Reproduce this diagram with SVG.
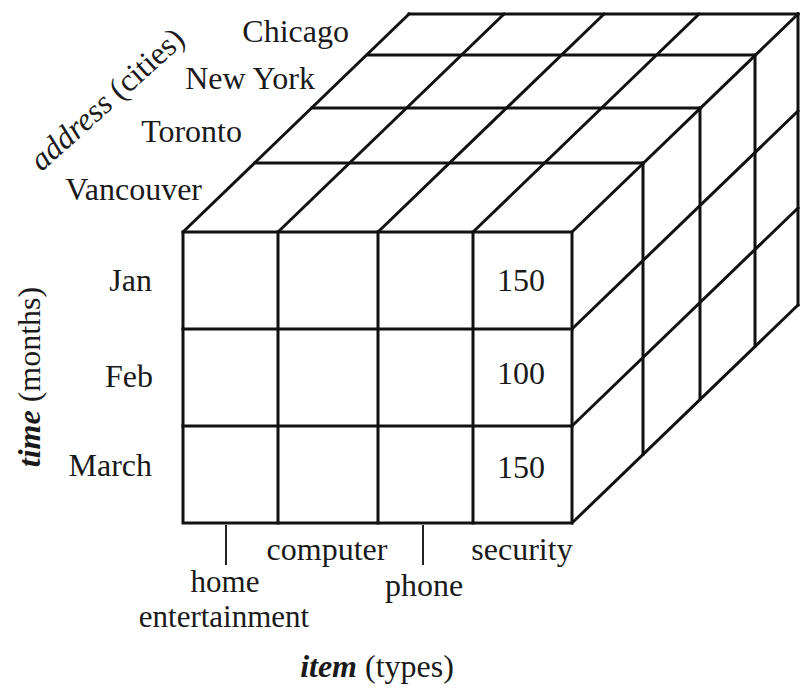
<svg xmlns="http://www.w3.org/2000/svg" width="801" height="688" viewBox="0 0 801 688">
  <style>
    .edge { fill: none; stroke: #111; stroke-width: 3; stroke-linejoin: miter; stroke-linecap: square; }
    .tick { fill: none; stroke: #222; stroke-width: 2; }
    .lbl { font-family: "Liberation Serif", "DejaVu Serif", serif; font-size: 32px; fill: #1a1a1a; }
    .end { text-anchor: end; }
    .mid { text-anchor: middle; }
    .dim { font-weight: bold; font-style: italic; }
    .ital { font-style: italic; }
    .tight { font-size: 31px; }
  </style>
  <rect width="801" height="688" fill="#ffffff"/>

  <!-- cube wireframe: front face 4 x 3, top face 4 x 4, right face 4 x 3 -->
  <g id="connectors">
    <!-- front face -->
    <g id="front-face">
      <rect class="edge" x="183" y="232" width="389" height="291"/>
      <line class="edge" x1="278" y1="232" x2="278" y2="523"/>
      <line class="edge" x1="378" y1="232" x2="378" y2="523"/>
      <line class="edge" x1="473" y1="232" x2="473" y2="523"/>
      <line class="edge" x1="183" y1="329" x2="572" y2="329"/>
      <line class="edge" x1="183" y1="426" x2="572" y2="426"/>
    </g>
    <!-- top face: depth lines and city layers -->
    <g id="top-face">
      <line class="edge" x1="183" y1="232" x2="409" y2="14"/>
      <line class="edge" x1="278" y1="232" x2="504" y2="14"/>
      <line class="edge" x1="378" y1="232" x2="604" y2="14"/>
      <line class="edge" x1="473" y1="232" x2="699" y2="14"/>
      <line class="edge" x1="572" y1="232" x2="798" y2="14"/>
      <line class="edge" x1="255" y1="163" x2="643" y2="163"/>
      <line class="edge" x1="312" y1="108" x2="700" y2="108"/>
      <line class="edge" x1="367" y1="55" x2="755" y2="55"/>
      <line class="edge" x1="409" y1="14" x2="798" y2="14"/>
    </g>
    <!-- right face -->
    <g id="right-face">
      <line class="edge" x1="643" y1="163" x2="643" y2="454"/>
      <line class="edge" x1="700" y1="108" x2="700" y2="399"/>
      <line class="edge" x1="755" y1="55" x2="755" y2="346"/>
      <line class="edge" x1="798" y1="14" x2="798" y2="305"/>
      <line class="edge" x1="572" y1="329" x2="798" y2="111"/>
      <line class="edge" x1="572" y1="426" x2="798" y2="208"/>
      <line class="edge" x1="572" y1="523" x2="798" y2="305"/>
    </g>
    <!-- item ticks -->
    <line class="tick" x1="226" y1="525" x2="226" y2="565"/>
    <line class="tick" x1="423" y1="525" x2="423" y2="565"/>
  </g>

  <!-- address dimension -->
  <g id="address">
    <text class="lbl" transform="translate(114 107) rotate(-42)" text-anchor="middle"><tspan class="ital">address</tspan> (cities)</text>
    <text class="lbl end" x="349" y="42">Chicago</text>
    <text class="lbl end" x="315" y="89">New York</text>
    <text class="lbl end" x="242" y="142">Toronto</text>
    <text class="lbl end" x="202" y="200">Vancouver</text>
  </g>

  <!-- time dimension -->
  <g id="time">
    <text class="lbl" transform="translate(40 377) rotate(-90)" text-anchor="middle"><tspan class="dim">time</tspan> (months)</text>
    <text class="lbl end" x="152" y="291">Jan</text>
    <text class="lbl end" x="153" y="387">Feb</text>
    <text class="lbl end" x="152" y="476">March</text>
  </g>

  <!-- cell values -->
  <g id="values">
    <text class="lbl end" x="545" y="291">150</text>
    <text class="lbl end" x="545" y="384">100</text>
    <text class="lbl end" x="545" y="478">150</text>
  </g>

  <!-- item dimension -->
  <g id="item">
    <text class="lbl mid" x="327" y="560">computer</text>
    <text class="lbl mid" x="522" y="560">security</text>
    <text class="lbl mid tight" x="225" y="592">home</text>
    <text class="lbl mid tight" x="224" y="627">entertainment</text>
    <text class="lbl mid" x="424" y="596">phone</text>
    <text class="lbl mid" x="377" y="677"><tspan class="dim">item</tspan> (types)</text>
  </g>
</svg>
